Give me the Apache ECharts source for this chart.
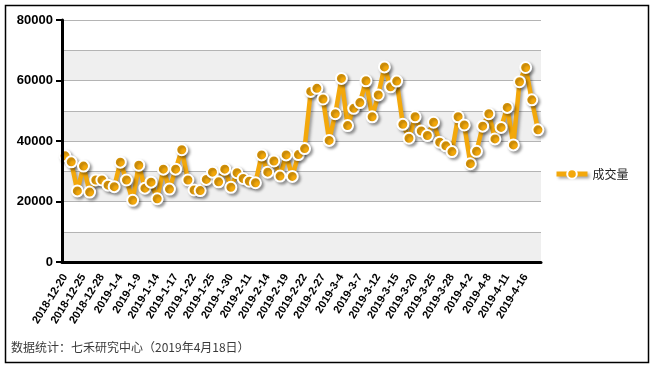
<!DOCTYPE html>
<html>
<head>
<meta charset="utf-8">
<script src="https://cdn.jsdelivr.net/npm/echarts@6/dist/echarts.min.js"></script>
<style>
html,body{margin:0;padding:0;background:#fff;}
#main{width:650px;height:365px;}
</style>
</head>
<body>
<div id="main"></div>
<script>
var dates = [
 '2018-12-20','2018-12-21','2018-12-24','2018-12-25','2018-12-26','2018-12-27','2018-12-28',
 '2019-1-2','2019-1-3','2019-1-4','2019-1-7','2019-1-8','2019-1-9','2019-1-10','2019-1-11',
 '2019-1-14','2019-1-15','2019-1-16','2019-1-17','2019-1-18','2019-1-21','2019-1-22','2019-1-23',
 '2019-1-24','2019-1-25','2019-1-28','2019-1-29','2019-1-30','2019-1-31','2019-2-1','2019-2-11',
 '2019-2-12','2019-2-13','2019-2-14','2019-2-15','2019-2-18','2019-2-19','2019-2-20','2019-2-21',
 '2019-2-22','2019-2-25','2019-2-26','2019-2-27','2019-2-28','2019-3-1','2019-3-4','2019-3-5',
 '2019-3-6','2019-3-7','2019-3-8','2019-3-11','2019-3-12','2019-3-13','2019-3-14','2019-3-15',
 '2019-3-18','2019-3-19','2019-3-20','2019-3-21','2019-3-22','2019-3-25','2019-3-26','2019-3-27',
 '2019-3-28','2019-3-29','2019-4-1','2019-4-2','2019-4-3','2019-4-4','2019-4-8','2019-4-9',
 '2019-4-10','2019-4-11','2019-4-12','2019-4-15','2019-4-16','2019-4-17','2019-4-18'
];
var volume = [
 35100,33100,23500,31700,23100,27100,27100,
 25400,24900,33000,27100,20400,32000,24400,26400,
 20900,30700,24100,30700,37100,27100,23800,23600,
 27300,29700,26500,30700,24700,29500,27600,26700,
 26200,35400,29700,33400,28400,35400,28300,35500,
 37500,56400,57400,53900,40200,49000,60700,45100,
 50800,52700,59900,48000,55200,64500,57900,59800,
 45500,40900,48000,43300,41800,46200,39600,38400,
 36500,48000,45300,32500,36600,44900,49000,40700,
 44500,51100,38700,59600,64300,53600,43700
];
var seriesName = '成交量';
var footnote = '数据统计：七禾研究中心（2019年4月18日）';

var chart = echarts.init(document.getElementById('main'));
var orange = '#F3A80B';
var shadow = {shadowColor: 'rgba(0,0,0,0.35)', shadowBlur: 3, shadowOffsetX: 2, shadowOffsetY: 2};
chart.setOption({
  animation: false,
  backgroundColor: '#fff',
  grid: {left: 62, right: 109, top: 20, bottom: 103},
  legend: {
    left: 549, top: 163, orient: 'vertical', padding: 5,
    itemWidth: 31, itemHeight: 12, itemGap: 5,
    textStyle: {fontSize: 12, color: '#222', fontFamily: 'Noto Sans CJK SC'},
    data: [{
      name: seriesName,
      lineStyle: Object.assign({color: orange, width: 5}, shadow),
      itemStyle: {color: orange, borderColor: '#fff', borderWidth: 2}
    }]
  },
  xAxis: {
    type: 'category',
    data: dates,
    boundaryGap: true,
    z: 10,
    axisLine: {lineStyle: {color: '#000', width: 3}},
    axisTick: {interval: 2, length: 6, lineStyle: {color: '#000', width: 2}},
    axisLabel: {interval: 2, rotate: 58, margin: 13, fontSize: 11, fontWeight: 'bold',
      color: '#000', fontFamily: 'Liberation Sans'},
    splitLine: {show: false}
  },
  yAxis: [{
    type: 'value', min: 0, max: 80000, interval: 10000, position: 'left',
    axisLine: {show: false}, axisTick: {show: false}, axisLabel: {show: false},
    splitLine: {show: true, lineStyle: {color: '#b4b4b4', width: 1}},
    splitArea: {show: true, areaStyle: {color: ['#efefef', '#ffffff']}}
  }, {
    type: 'value', min: 0, max: 80000, interval: 20000, position: 'left', offset: 0,
    axisLine: {show: true, onZero: false, lineStyle: {color: '#000', width: 3}},
    axisTick: {show: true, length: 6, lineStyle: {color: '#000', width: 2}},
    axisLabel: {fontSize: 13, fontWeight: 'bold', color: '#000', margin: 9,
      fontFamily: 'Liberation Sans', formatter: function (v) { return String(v); }},
    splitLine: {show: false},
    z: 10
  }],
  series: [{
    name: seriesName,
    type: 'line',
    yAxisIndex: 0,
    data: volume,
    symbol: 'circle',
    symbolSize: 11,
    showAllSymbol: true,
    lineStyle: Object.assign({color: orange, width: 4.5}, shadow),
    itemStyle: Object.assign({color: orange, borderColor: '#fff', borderWidth: 2}, shadow),
    z: 5
  }],
  graphic: [{
    type: 'rect', left: 3, top: 3, z: 100,
    shape: {width: 643, height: 357},
    style: {fill: 'none', stroke: '#000', lineWidth: 1.5}
  }, {
    type: 'text', left: 11, top: 341, z: 100,
    style: {text: footnote, fontSize: 12, fill: '#3a3a3a', fontFamily: 'Noto Sans CJK SC'}
  }]
});
</script>
</body>
</html>
